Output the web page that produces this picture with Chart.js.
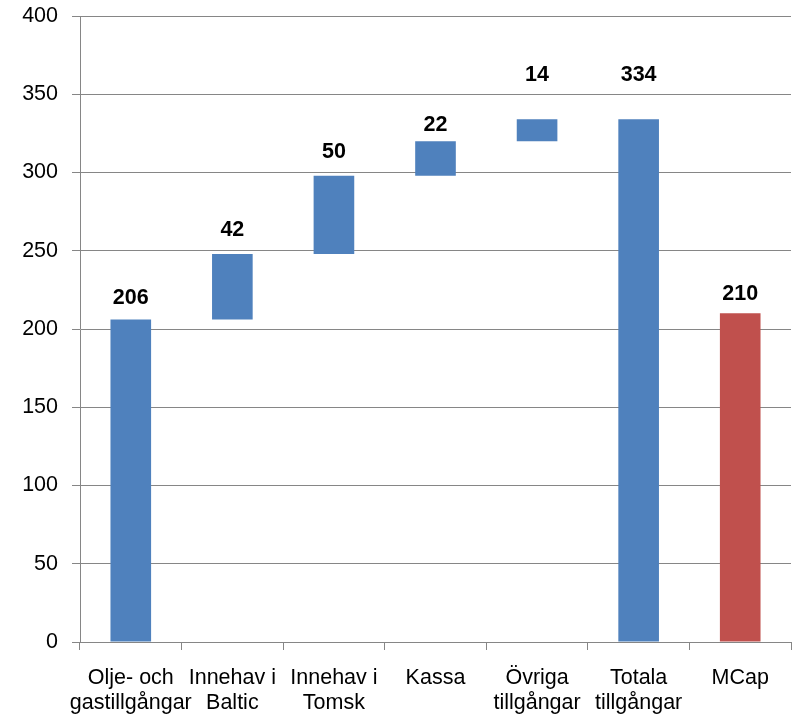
<!DOCTYPE html>
<html>
<head>
<meta charset="utf-8">
<script src="https://cdn.jsdelivr.net/npm/chart.js@4/dist/chart.umd.min.js"></script>
<style>
html,body{margin:0;padding:0;background:#fff;}
#wrap{width:794px;height:716px;}
</style>
</head>
<body>
<div id="wrap"><canvas id="c" width="794" height="716"></canvas></div>
<script>
const categories = [['Olje- och','gastillgångar'],['Innehav i','Baltic'],['Innehav i','Tomsk'],'Kassa',['Övriga','tillgångar'],['Totala','tillgångar'],'MCap'];
const barStart = [0, 206, 248, 298, 320, 0, 0];
const barEnd = [206, 248, 298, 320, 334, 334, 210];
const valueLabels = ['206','42','50','22','14','334','210'];
const labelAt = [220, 263, 313, 330, 362, 362, 222];
const barColors = ['#4F81BD','#4F81BD','#4F81BD','#4F81BD','#4F81BD','#4F81BD','#C0504D'];
const yTicks = [0,50,100,150,200,250,300,350,400];

const FONT = 'Arial, "Liberation Sans", sans-serif';

const labelPlugin = {
  id: 'valueLabels',
  afterDatasetsDraw(chart) {
    const ctx = chart.ctx;
    const meta = chart.getDatasetMeta(0);
    const y = chart.scales.y;
    ctx.save();
    ctx.font = 'bold 21.5px ' + FONT;
    ctx.fillStyle = '#000';
    ctx.textAlign = 'center';
    ctx.textBaseline = 'middle';
    meta.data.forEach((bar, i) => {
      ctx.fillText(valueLabels[i], bar.x, y.getPixelForValue(labelAt[i]));
    });
    ctx.restore();
  }
};

new Chart(document.getElementById('c'), {
  type: 'bar',
  data: {
    labels: categories,
    datasets: [{
      data: barStart.map((s, i) => [s, barEnd[i]]),
      backgroundColor: barColors,
      borderWidth: 0,
      barPercentage: 0.8,
      categoryPercentage: 0.5
    }]
  },
  options: {
    responsive: false,
    animation: false,
    layout: { padding: { top: 16, right: 3, left: 0, bottom: 0 } },
    plugins: { legend: { display: false }, tooltip: { enabled: false } },
    scales: {
      x: {
        offset: true,
        afterFit(s) { s.height = 74; s.paddingLeft = 0; s.paddingRight = 0; },
        grid: { offset: true, drawOnChartArea: false, drawTicks: true, tickLength: 8, color: '#868686', lineWidth: 1 },
        border: { display: true, color: '#868686', width: 1 },
        ticks: { color: '#000', font: { family: FONT, size: 21.5, lineHeight: 1.16 }, padding: 16, maxRotation: 0, autoSkip: false }
      },
      y: {
        min: 0, max: 400,
        afterFit(s) { s.width = 80; s.paddingTop = 0; s.paddingBottom = 0; },
        afterBuildTicks(s) { s.ticks = yTicks.map(v => ({ value: v })); },
        grid: { color: '#868686', lineWidth: 1, drawTicks: true, tickLength: 8 },
        border: { display: true, color: '#868686', width: 1 },
        ticks: { color: '#000', font: { family: FONT, size: 21.5 }, padding: 14 }
      }
    }
  },
  plugins: [labelPlugin]
});
</script>
</body>
</html>
